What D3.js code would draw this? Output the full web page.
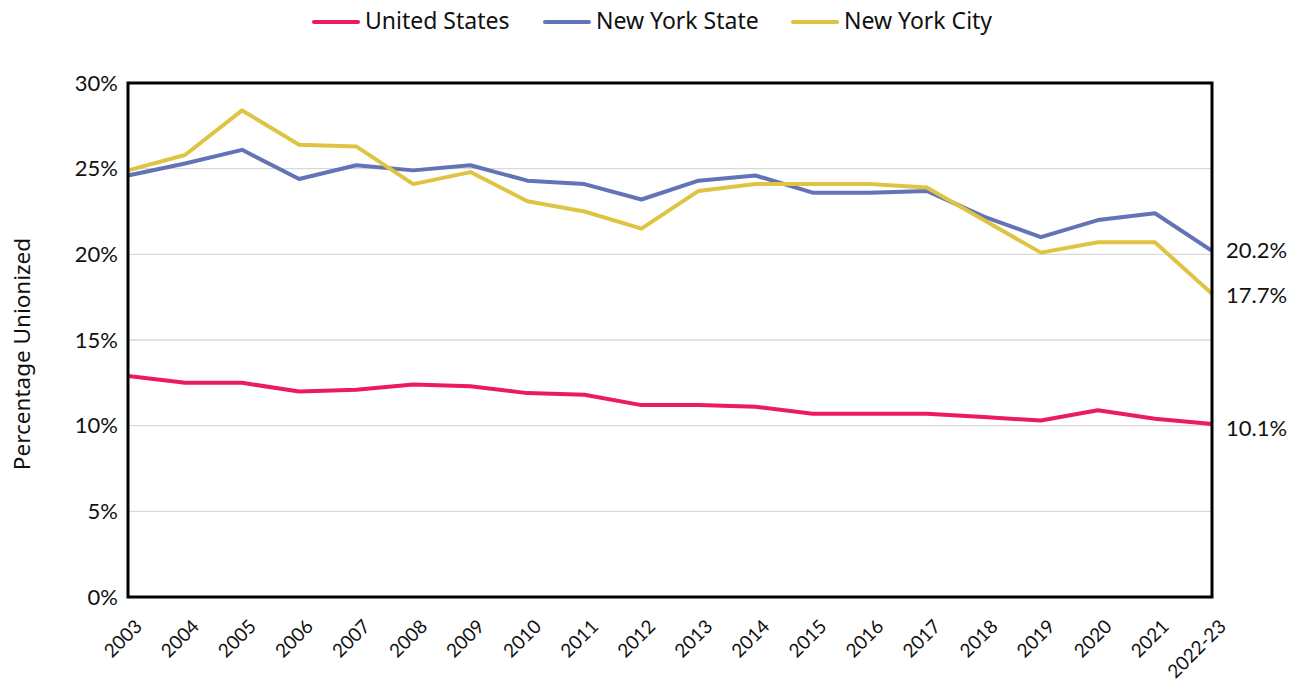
<!DOCTYPE html>
<html>
<head>
<meta charset="utf-8">
<script src="https://d3js.org/d3.v7.min.js"></script>
<style>
  body { margin: 0; background: #fff; }
  svg { display: block; }
</style>
</head>
<body>
<div id="chart"></div>
<script>
// data
const years = ["2003","2004","2005","2006","2007","2008","2009","2010","2011","2012",
               "2013","2014","2015","2016","2017","2018","2019","2020","2021","2022-23"];
const usValues  = [12.9,12.5,12.5,12.0,12.1,12.4,12.3,11.9,11.8,11.2,11.2,11.1,10.7,10.7,10.7,10.5,10.3,10.9,10.4,10.1];
const nysValues = [24.6,25.3,26.1,24.4,25.2,24.9,25.2,24.3,24.1,23.2,24.3,24.6,23.6,23.6,23.7,22.2,21.0,22.0,22.4,20.2];
const nycValues = [24.9,25.8,28.4,26.4,26.3,24.1,24.8,23.1,22.5,21.5,23.7,24.1,24.1,24.1,23.9,22.0,20.1,20.7,20.7,17.7];
const yTicks = [0,5,10,15,20,25,30];
const seriesNames = ["United States","New York State","New York City"];
const seriesColors = ["#ec1a63","#6373b6","#dfc443"];

const W = 1306, H = 689;
const margin = {top: 83, right: 94, bottom: 92, left: 128};

const svg = d3.select("#chart").append("svg")
  .attr("width", W).attr("height", H);

const x = d3.scalePoint().domain(years).range([margin.left, W - margin.right]);
const y = d3.scaleLinear().domain([0, 30]).range([H - margin.bottom, margin.top]);

// gridlines
svg.append("g").selectAll("line")
  .data(yTicks.slice(1, -1))
  .join("line")
  .attr("x1", margin.left).attr("x2", W - margin.right)
  .attr("y1", d => y(d)).attr("y2", d => y(d))
  .attr("stroke", "#d9d9d9").attr("stroke-width", 1.3);

// y tick labels
const yAxis = svg.append("g")
  .attr("transform", `translate(${margin.left},0)`)
  .call(d3.axisLeft(y).tickValues(yTicks).tickFormat(d => d + "%").tickSize(0).tickPadding(10));
yAxis.select(".domain").remove();
yAxis.selectAll("text")
  .style("font-family", "Lato, sans-serif").style("font-size", "22px").attr("fill", "#111");

// x tick labels, rotated
const xAxis = svg.append("g")
  .attr("transform", `translate(0,${H - margin.bottom})`)
  .call(d3.axisBottom(x).tickSize(0));
xAxis.select(".domain").remove();
xAxis.selectAll("text")
  .style("font-family", "Lato, sans-serif").style("font-size", "19px").attr("fill", "#111")
  .attr("text-anchor", "end")
  .attr("x", 0).attr("y", 0).attr("dy", "0.72em")
  .attr("transform", "translate(5,21) rotate(-45)");

// y axis title
svg.append("text")
  .attr("transform", "translate(30,354) rotate(-90)")
  .attr("text-anchor", "middle")
  .style("font-family", "'Noto Sans', sans-serif").style("font-size", "22.5px").attr("fill", "#111")
  .text("Percentage Unionized");

// lines
const allSeries = [usValues, nysValues, nycValues];
const line = d3.line().x((d, i) => x(years[i])).y(d => y(d));
svg.append("g").selectAll("path")
  .data(allSeries)
  .join("path")
  .attr("d", d => line(d))
  .attr("fill", "none")
  .attr("stroke", (d, i) => seriesColors[i])
  .attr("stroke-width", 4)
  .attr("stroke-linejoin", "round");

// frame
svg.append("rect")
  .attr("x", margin.left).attr("y", margin.top)
  .attr("width", W - margin.right - margin.left)
  .attr("height", H - margin.bottom - margin.top)
  .attr("fill", "none").attr("stroke", "#000").attr("stroke-width", 3);

// end labels
const endLabels = [
  {v: nysValues[nysValues.length - 1], dy: 2},
  {v: nycValues[nycValues.length - 1], dy: 4},
  {v: usValues[usValues.length - 1], dy: 6}
];
svg.append("g").selectAll("text")
  .data(endLabels)
  .join("text")
  .attr("x", W - margin.right + 14)
  .attr("y", d => y(d.v) + d.dy)
  .attr("dominant-baseline", "middle")
  .style("font-family", "Lato, sans-serif").style("font-size", "22px").attr("fill", "#111")
  .text(d => d.v.toFixed(1) + "%");

// legend
const legendX = [314, 545, 793];
const legend = svg.append("g").selectAll("g")
  .data(seriesNames)
  .join("g")
  .attr("transform", (d, i) => `translate(${legendX[i]},22)`);
legend.append("line")
  .attr("x1", 0).attr("x2", 44)
  .attr("stroke", (d, i) => seriesColors[i])
  .attr("stroke-width", 4).attr("stroke-linecap", "round");
legend.append("text")
  .attr("x", 51).attr("y", 1).attr("dominant-baseline", "middle")
  .style("font-family", "'Noto Sans', sans-serif").style("font-size", "23px").attr("fill", "#111")
  .text(d => d);
</script>
</body>
</html>
